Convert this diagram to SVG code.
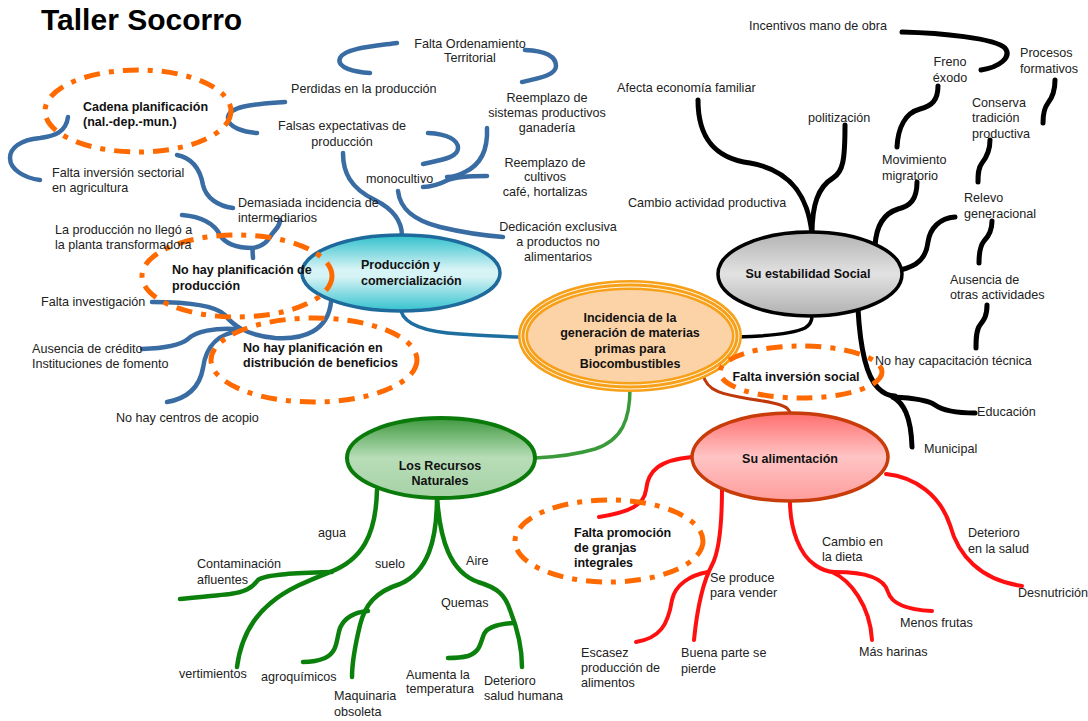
<svg xmlns="http://www.w3.org/2000/svg" width="1088" height="721" viewBox="0 0 1088 721">
<style>
text{font-family:"Liberation Sans",Arial,sans-serif;font-size:12.6px;fill:#222}
.b{font-weight:bold;font-size:12.5px;fill:#111}
.c{text-anchor:middle}
.title{font-weight:bold;font-size:30px;fill:#000}
.lk{fill:none;stroke-linecap:round;stroke-linejoin:round}
.blue{stroke:#3a6ca4;stroke-width:4.5}
.blk{stroke:#000;stroke-width:5}
.grn{stroke:#0c800c;stroke-width:4.5}
.red{stroke:#ff1010;stroke-width:4}
.dash{fill:none;stroke:#ff6a00;stroke-width:5;stroke-dasharray:16 9 5 9}
</style>
<defs>
<linearGradient id="gProd" x1="0" y1="0" x2="0" y2="1">
<stop offset="0" stop-color="#2fc0cc"/><stop offset="0.45" stop-color="#d6f3f5"/><stop offset="0.55" stop-color="#d6f3f5"/><stop offset="1" stop-color="#33c2ce"/>
</linearGradient>
<linearGradient id="gSoc" x1="0" y1="0" x2="0" y2="1">
<stop offset="0" stop-color="#b2b2b2"/><stop offset="0.5" stop-color="#e2e2e2"/><stop offset="1" stop-color="#b0b0b0"/>
</linearGradient>
<linearGradient id="gNat" x1="0" y1="0" x2="0" y2="1">
<stop offset="0" stop-color="#3f993f"/><stop offset="0.5" stop-color="#b8ddb8"/><stop offset="1" stop-color="#a5d2a5"/>
</linearGradient>
<linearGradient id="gAli" x1="0" y1="0" x2="0" y2="1">
<stop offset="0" stop-color="#ff6e6e"/><stop offset="0.5" stop-color="#ffc4c4"/><stop offset="1" stop-color="#ff9c9c"/>
</linearGradient>
</defs>
<rect width="1088" height="721" fill="#fff"/>
<text id="title" class="title" x="41" y="30">Taller Socorro</text>

<g id="connectors" class="lk">
<!-- blue: production and marketing -->
<g class="blue">
<path d="M397,43 C375,46 345,48 340,58 C336,68 355,72 370,73"/>
<path d="M525,50 C548,51 556,58 556,66 C556,75 540,78 522,82"/>
<path d="M285,102 C260,104 228,105 228,118 C228,128 245,132 257,133"/>
<path d="M343,153 C343,172 350,188 375,200 C395,210 402,222 402,236"/>
<path d="M428,133 C448,134 458,140 458,148 C458,158 440,160 423,164"/>
<path d="M487,128 C488,150 480,165 465,172 C458,176 452,177 447,177"/>
<path d="M487,176 C470,176 455,177 448,180 C440,184 432,187 423,187"/>
<path d="M398,191 C400,208 412,220 440,227 C465,233 490,236 503,237"/>
<path d="M68,117 C66,132 55,136 40,138 C20,140 10,148 10,158 C10,170 25,178 40,180"/>
<path d="M177,155 C192,158 200,168 203,185 C206,198 218,206 233,208"/>
<path d="M182,215 C205,217 215,225 220,235 C226,245 240,248 253,248 C265,246 268,240 272,234 C277,228 280,225 280,220"/>
<path d="M253,248 C252,252 253,255 253,258"/>
<path d="M152,302 C185,302 215,305 225,315 C233,325 245,335 275,338 C305,340 328,330 331,302"/>
<path d="M142,349 C170,348 182,344 188,339 C196,331 215,328 235,329"/>
<path d="M167,402 C190,398 200,385 203,368 C206,345 220,333 240,331"/>
</g>
<path d="M401,311 C405,325 425,332 460,334 C490,336 510,337 523,337" stroke="#1f6ea0" stroke-width="3.5"/>
<!-- black: social stability -->
<g class="blk">
<path d="M902,32 C940,33 995,38 1005,48 C1012,57 1000,67 981,70"/>
<path d="M938,86 C938,100 932,106 920,109 C905,113 898,128 897,147"/>
<path d="M1055,80 C1055,92 1052,98 1048,103 C1044,108 1043,116 1043,123"/>
<path d="M698,100 C698,135 712,158 750,163 C790,170 808,195 812,234"/>
<path d="M845,125 C845,160 843,172 833,178 C818,187 812,205 812,234"/>
<path d="M917,182 C917,200 910,206 898,209 C882,214 876,228 875,246"/>
<path d="M955,217 C940,218 930,228 928,242 C926,258 918,266 900,270"/>
<path d="M990,140 C990,152 986,158 982,163 C978,168 978,175 978,182"/>
<path d="M992,221 C992,232 988,237 984,241 C980,246 979,255 979,263"/>
<path d="M987,305 C987,316 984,320 980,325 C976,330 976,340 976,348"/>
<path d="M858,309 C860,345 865,375 878,388 C885,395 890,396 895,396"/>
<path d="M893,397 C915,398 928,400 935,405 C942,410 955,413 975,413"/>
<path d="M893,397 C903,403 911,415 912,447"/>
</g>
<path d="M737,337 C770,336 795,333 805,328 C810,325 812,322 812,316" stroke="#000" stroke-width="3.5"/>
<!-- green: natural resources -->
<path d="M630,388 C630,420 622,440 595,449 C575,455 555,457 535,458" stroke="#3a9a3a" stroke-width="3.5"/>
<g class="grn">
<path d="M377,490 C376,535 362,560 330,572 C290,588 245,605 237,667"/>
<path d="M332,572 C300,573 265,574 258,580 C252,588 245,592 230,594 C210,596 195,598 180,599"/>
<path d="M437,497 C437,540 428,572 400,584 C375,592 365,605 360,625 C354,650 352,665 352,677"/>
<path d="M368,611 C355,612 345,617 340,628 C336,640 338,652 325,658 C318,661 310,662 303,662"/>
<path d="M437,497 C440,540 450,572 478,582 C498,588 505,595 510,610 C518,630 522,650 522,667"/>
<path d="M513,623 C500,624 488,626 484,634 C480,644 480,652 468,656 C460,658 455,658 448,658"/>
</g>
<!-- red: food -->
<path d="M703,374 C706,392 725,395 750,399 C778,403 790,406 790,414" stroke="#c0390b" stroke-width="3"/>
<g class="red">
<path d="M692,457 C660,460 648,470 646,490 C644,505 630,512 599,517"/>
<path d="M722,488 C722,520 720,550 712,565 C705,578 698,600 694,640"/>
<path d="M708,572 C690,575 675,585 672,600 C668,625 660,638 636,642"/>
<path d="M790,501 C790,530 800,555 815,565 C822,570 828,572 835,572"/>
<path d="M832,572 C850,580 870,605 872,640"/>
<path d="M835,572 C870,572 885,580 888,592 C892,605 910,610 932,611"/>
<path d="M886,474 C915,477 940,495 950,525 C958,555 980,580 1022,586"/>
</g>
</g>

<g id="node-center">
<ellipse cx="630" cy="336" rx="107" ry="51" fill="#fcd3a6" stroke="#f7a11a" stroke-width="10"/>
<ellipse cx="630" cy="336" rx="105" ry="49" fill="none" stroke="#fff" stroke-width="0.9"/>
<ellipse cx="630" cy="336" rx="109" ry="53" fill="none" stroke="#fff" stroke-width="0.9"/>
<text class="b c" x="630" y="322">Incidencia de la</text>
<text class="b c" x="630" y="337">generación de materias</text>
<text class="b c" x="630" y="353">primas para</text>
<text class="b c" x="630" y="368">Biocombustibles</text>
</g>
<g id="node-produccion">
<ellipse cx="401" cy="273" rx="99" ry="38" fill="url(#gProd)" stroke="#1f6a9c" stroke-width="3.5"/>
<text class="b" x="361" y="269">Producción y</text>
<text class="b" x="361" y="285">comercialización</text>
</g>
<g id="node-social">
<ellipse cx="810" cy="274" rx="92" ry="42" fill="url(#gSoc)" stroke="#000" stroke-width="3.5"/>
<text class="b c" x="808" y="278">Su estabilidad Social</text>
</g>
<g id="node-recursos">
<ellipse cx="441" cy="458" rx="94" ry="40" fill="url(#gNat)" stroke="#0a7a0a" stroke-width="4"/>
<text class="b c" x="440" y="470">Los Recursos</text>
<text class="b c" x="440" y="485">Naturales</text>
</g>
<g id="node-alimentacion">
<ellipse cx="790" cy="457" rx="98" ry="44" fill="url(#gAli)" stroke="#c83c0a" stroke-width="3.5"/>
<text class="b c" x="790" y="463">Su alimentación</text>
</g>

<g id="issue-cadena">
<ellipse class="dash" cx="138" cy="111" rx="93" ry="41"/>
<text class="b" x="83" y="111">Cadena planificación</text>
<text class="b" x="83" y="126">(nal.-dep.-mun.)</text>
</g>
<g id="issue-plan-produccion">
<ellipse class="dash" cx="237" cy="276" rx="95" ry="41"/>
<text class="b" x="172" y="274">No hay planificación de</text>
<text class="b" x="172" y="290">producción</text>
</g>
<g id="issue-plan-beneficios">
<ellipse class="dash" cx="314" cy="360" rx="103" ry="42"/>
<text class="b" x="243" y="352">No hay planificación en</text>
<text class="b" x="243" y="367">distribución de beneficios</text>
</g>
<g id="issue-inversion-social">
<ellipse class="dash" cx="801" cy="372" rx="81" ry="26"/>
<text class="b c" x="796" y="381">Falta inversión social</text>
</g>
<g id="issue-granjas">
<ellipse class="dash" cx="609" cy="541" rx="94" ry="41"/>
<text class="b" x="574" y="537">Falta promoción</text>
<text class="b" x="574" y="552">de granjas</text>
<text class="b" x="574" y="567">integrales</text>
</g>

<g id="labels-produccion">
<g id="l-ordenamiento"><text class="c" x="470" y="48">Falta Ordenamiento</text><text class="c" x="470" y="62">Territorial</text></g>
<g id="l-perdidas"><text x="291" y="93">Perdidas en la producción</text></g>
<g id="l-falsas"><text class="c" x="342" y="130">Falsas expectativas de</text><text class="c" x="342" y="146">producción</text></g>
<g id="l-ganaderia"><text class="c" x="547" y="102">Reemplazo de</text><text class="c" x="547" y="117">sistemas productivos</text><text class="c" x="547" y="132">ganadería</text></g>
<g id="l-monocultivo"><text x="366" y="183">monocultivo</text></g>
<g id="l-cultivos"><text class="c" x="545" y="167">Reemplazo de</text><text class="c" x="545" y="181">cultivos</text><text class="c" x="545" y="196">café, hortalizas</text></g>
<g id="l-dedicacion"><text class="c" x="558" y="231">Dedicación exclusiva</text><text class="c" x="558" y="246">a productos no</text><text class="c" x="558" y="261">alimentarios</text></g>
<g id="l-sectorial"><text x="52" y="177">Falta inversión sectorial</text><text x="52" y="192">en agricultura</text></g>
<g id="l-intermediarios"><text x="238" y="207">Demasiada incidencia de</text><text x="238" y="222">intermediarios</text></g>
<g id="l-planta"><text x="55" y="234">La producción no llegó a</text><text x="55" y="249">la planta transformadora</text></g>
<g id="l-investigacion"><text x="41" y="306">Falta investigación</text></g>
<g id="l-credito"><text x="32" y="353">Ausencia de crédito</text><text x="32" y="368">Instituciones de fomento</text></g>
<g id="l-acopio"><text x="116" y="422">No hay centros de acopio</text></g>
</g>

<g id="labels-social">
<g id="l-incentivos"><text x="749" y="30">Incentivos mano de obra</text></g>
<g id="l-freno"><text class="c" x="950" y="66">Freno</text><text class="c" x="950" y="82">éxodo</text></g>
<g id="l-procesos"><text x="1020" y="57">Procesos</text><text x="1020" y="73">formativos</text></g>
<g id="l-afecta"><text x="617" y="92">Afecta economía familiar</text></g>
<g id="l-politizacion"><text x="808" y="122">politización</text></g>
<g id="l-conserva"><text x="972" y="107">Conserva</text><text x="972" y="122">tradición</text><text x="972" y="138">productiva</text></g>
<g id="l-movimiento"><text x="882" y="164">Movimiento</text><text x="882" y="180">migratorio</text></g>
<g id="l-cambio-actividad"><text x="628" y="207">Cambio actividad productiva</text></g>
<g id="l-relevo"><text x="964" y="202">Relevo</text><text x="964" y="218">generacional</text></g>
<g id="l-ausencia"><text x="950" y="284">Ausencia de</text><text x="950" y="299">otras actividades</text></g>
<g id="l-capacitacion"><text x="875" y="365">No hay capacitación técnica</text></g>
<g id="l-educacion"><text x="977" y="416">Educación</text></g>
<g id="l-municipal"><text x="924" y="453">Municipal</text></g>
</g>

<g id="labels-recursos">
<g id="l-agua"><text x="318" y="537">agua</text></g>
<g id="l-afluentes"><text x="197" y="568">Contaminación</text><text x="197" y="584">afluentes</text></g>
<g id="l-suelo"><text x="375" y="568">suelo</text></g>
<g id="l-aire"><text x="466" y="565">Aire</text></g>
<g id="l-quemas"><text x="441" y="607">Quemas</text></g>
<g id="l-vertimientos"><text x="179" y="678">vertimientos</text></g>
<g id="l-agroquimicos"><text x="261" y="681">agroquímicos</text></g>
<g id="l-maquinaria"><text x="334" y="700">Maquinaria</text><text x="334" y="716">obsoleta</text></g>
<g id="l-temperatura"><text x="406" y="679">Aumenta la</text><text x="406" y="693">temperatura</text></g>
<g id="l-salud-humana"><text x="484" y="685">Deterioro</text><text x="484" y="700">salud humana</text></g>
</g>

<g id="labels-alimentacion">
<g id="l-vender"><text x="710" y="582">Se produce</text><text x="710" y="597">para vender</text></g>
<g id="l-escasez"><text x="581" y="657">Escasez</text><text x="581" y="672">producción de</text><text x="581" y="687">alimentos</text></g>
<g id="l-pierde"><text x="681" y="657">Buena parte se</text><text x="681" y="673">pierde</text></g>
<g id="l-dieta"><text x="822" y="546">Cambio en</text><text x="822" y="561">la dieta</text></g>
<g id="l-deterioro-salud"><text x="968" y="537">Deterioro</text><text x="968" y="553">en la salud</text></g>
<g id="l-desnutricion"><text x="1018" y="597">Desnutrición</text></g>
<g id="l-frutas"><text x="900" y="627">Menos frutas</text></g>
<g id="l-harinas"><text x="859" y="656">Más harinas</text></g>
</g>
</svg>
